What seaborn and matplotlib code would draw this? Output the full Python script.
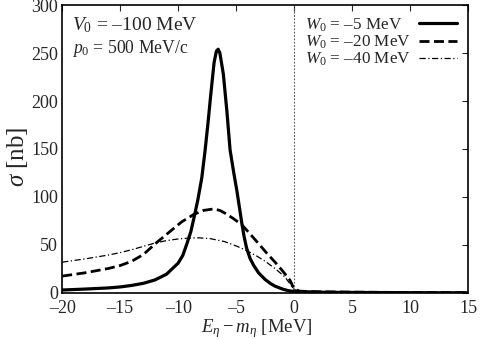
import matplotlib
matplotlib.use("Agg")
import matplotlib.pyplot as plt
import seaborn as sns
import numpy as np
from matplotlib.offsetbox import TextArea
from matplotlib.transforms import Bbox

# W0 = -5 MeV (solid)
x_w5 = [-20, -18, -16, -15, -14, -13, -12, -11, -10, -9.6, -9.25, -8.9, -8.62,
        -8.3, -7.96, -7.67, -7.4, -7.2, -6.9, -6.7, -6.55, -6.4, -6.1, -5.8, -5.52,
        -5.2, -4.94, -4.7, -4.5, -4.3, -4.1, -3.8, -3.5, -3.07, -2.5, -2.0, -1.64,
        -1.0, -0.5, 0, 1, 3, 6, 10, 15]
y_w5 = [3, 4, 5.2, 6.2, 7.8, 10, 13.5, 19.5, 31, 39, 51, 64, 79,
        97, 120, 149, 180, 205, 240, 252, 254, 250, 228, 190, 149,
        125, 107, 88, 72, 58, 47, 36, 29, 21, 14, 9.5, 7,
        4, 2.3, 1.5, 1.0, 0.6, 0.4, 0.2, 0.1]

# W0 = -20 MeV (dashed)
x_w20 = [-20, -18, -16, -15, -14, -13, -11.9, -10.7, -9.7, -8.62, -7.8, -6.96,
         -6.4, -5.95, -5.3, -4.5, -3.8, -3.07, -2.4, -1.64, -1.0, -0.34, 0, 0.5,
         2, 5, 10, 15]
y_w20 = [17.5, 21, 25.5, 28.5, 33, 40, 52, 64, 74, 82, 86, 87.5,
         86, 83, 78, 71, 61.5, 51.5, 42, 32, 23, 13, 4, 1.8,
         1.2, 0.8, 0.4, 0.2]

# W0 = -40 MeV (dash-dot)
x_w40 = [-20, -18, -16, -15, -14, -13, -12, -11, -10, -9, -8.2, -7.2, -6.0,
         -5.0, -4.16, -3.3, -2.5, -1.6, -0.78, 0, 0.5, 2, 5, 10, 15]
y_w40 = [32, 35.5, 39.5, 42, 45, 48.5, 52, 54.5, 56.2, 57.2, 57.4, 56.5, 53.5,
         49, 44.5, 39, 33, 25, 16.5, 3.5, 2.0, 1.3, 0.8, 0.4, 0.2]

labels = [r"$W_0$ = –5 MeV", r"$W_0$ = –20 MeV", r"$W_0$ = –40 MeV"]

sns.set_style("white")
plt.rcParams["font.family"] = ["Liberation Serif", "DejaVu Serif"]
plt.rcParams["mathtext.fontset"] = "custom"
plt.rcParams["mathtext.rm"] = "Liberation Serif"
plt.rcParams["mathtext.it"] = "Liberation Serif:italic"

fig = plt.figure(figsize=(4.82, 3.39), dpi=100)
ax = fig.add_axes([0.129, 0.136, 0.842, 0.849])

sns.lineplot(x=x_w5, y=y_w5, ax=ax, color="black", lw=2.3, label=labels[0])
sns.lineplot(x=x_w20, y=y_w20, ax=ax, color="black", lw=2.0,
             linestyle=(0, (3.6, 1.6)), label=labels[1])
sns.lineplot(x=x_w40, y=y_w40, ax=ax, color="black", lw=0.9,
             linestyle=(0, (5, 2, 1, 2)), label=labels[2])

ax.axvline(0, color="#555555", lw=0.8, linestyle=(0, (1.5, 1.5)))

ax.set_xlim(-20, 15)
ax.set_ylim(0, 300)
ax.set_xticks(np.arange(-20, 16, 5))
ax.set_yticks(np.arange(0, 301, 50))
ax.set_xticklabels(["–20", "–15", "–10", "–5", "0", "5", "10", "15"])
ax.tick_params(direction="in", length=4, width=0.8, top=True, right=True,
               labelsize=13)
ax.tick_params(axis="x", pad=5)
ax.tick_params(axis="y", pad=3)
for s in ax.spines.values():
    s.set_linewidth(1.2)
    s.set_color("black")

ax.set_xlabel(r"$E_\eta - m_\eta$ [MeV]", fontsize=13.5)
ax.set_ylabel(r"$\sigma$ [nb]", fontsize=18)
ax.xaxis.set_label_coords(0.48, -0.083)
ax.yaxis.set_label_coords(-0.08, 0.472)

ax.text(0.025, 0.913, r"$V_0$ = –100 MeV", transform=ax.transAxes,
        fontsize=14, va="baseline", ha="left")
ax.text(0.025, 0.833, r"$p_0$ = 500 MeV/c", transform=ax.transAxes,
        fontsize=12.7, va="baseline", ha="left")

leg = ax.legend(loc="upper right", frameon=False, markerfirst=False,
                fontsize=12.3, handlelength=2.2, handletextpad=0.5,
                labelspacing=0.0, borderaxespad=0.25)

# make legend texts equally wide so they line up on the left, handles on the right
areas = leg.findobj(TextArea)
orig_bbox = {a: a.get_bbox for a in areas}


def widened(a):
    def get_bbox(renderer):
        bb = orig_bbox[a](renderer)
        w = max(orig_bbox[o](renderer).width for o in areas)
        return Bbox.from_bounds(bb.x0, bb.y0, w, bb.height)
    return get_bbox


for a in areas:
    a.get_bbox = widened(a)

fig.savefig("out.png", dpi=100)
